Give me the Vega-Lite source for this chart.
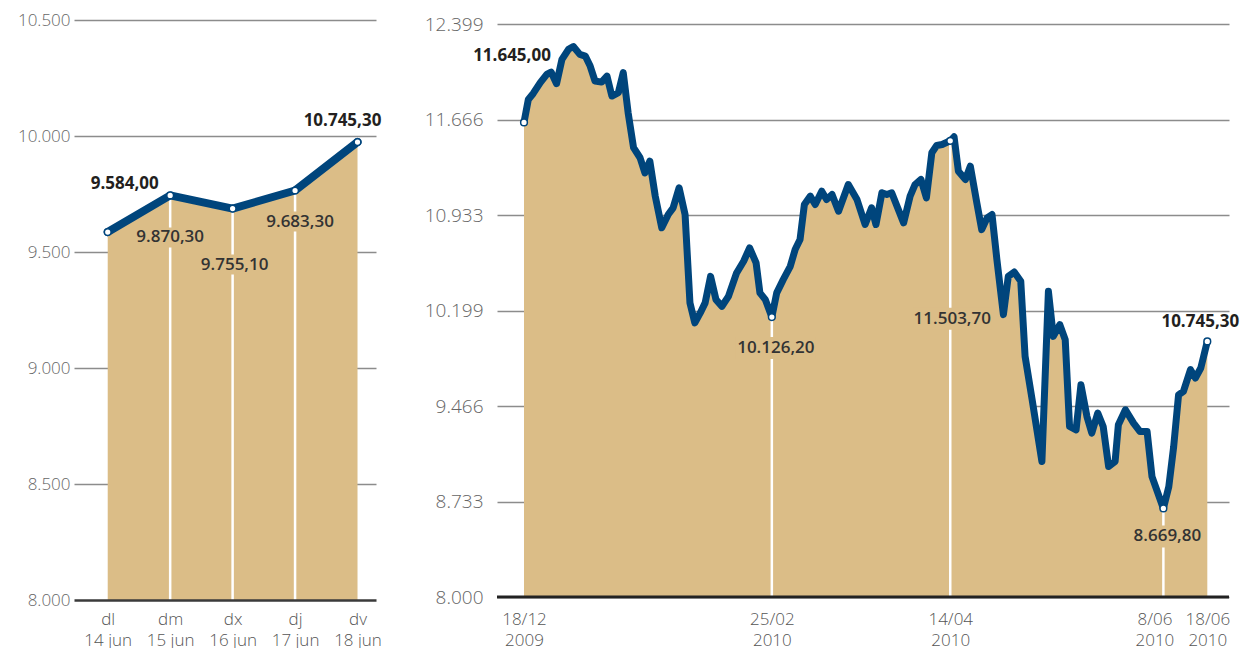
{
  "$schema": "https://vega.github.io/schema/vega-lite/v6.json",
  "padding": {"left": 17, "top": 11, "right": 0, "bottom": 0},
  "spacing": 42,
  "config": {
    "view": {"stroke": null},
    "font": "Open Sans",
    "axis": {"title": null, "labelFont": "Open Sans", "labelFontWeight": 300}
  },
  "datasets": {
    "semana": [
      {"dia": 0, "dia_sem": "dl", "fecha": "14 jun", "valor": 9586, "texto": "9.584,00"},
      {"dia": 1, "dia_sem": "dm", "fecha": "15 jun", "valor": 9744, "texto": "9.870,30"},
      {"dia": 2, "dia_sem": "dx", "fecha": "16 jun", "valor": 9687, "texto": "9.755,10"},
      {"dia": 3, "dia_sem": "dj", "fecha": "17 jun", "valor": 9765, "texto": "9.683,30"},
      {"dia": 4, "dia_sem": "dv", "fecha": "18 jun", "valor": 9974, "texto": "10.745,30"}
    ],
    "serie": [
      {"sesion": 0, "valor": 11645, "texto": "11.645,00"},
      {"sesion": 0.8, "valor": 11822},
      {"sesion": 1.7, "valor": 11868},
      {"sesion": 3.0, "valor": 11951},
      {"sesion": 4.2, "valor": 12014},
      {"sesion": 5.0, "valor": 12032},
      {"sesion": 6.0, "valor": 11943},
      {"sesion": 7.0, "valor": 12130},
      {"sesion": 8.2, "valor": 12207},
      {"sesion": 9.1, "valor": 12228},
      {"sesion": 10.3, "valor": 12168},
      {"sesion": 11.3, "valor": 12155},
      {"sesion": 12.2, "valor": 12078},
      {"sesion": 13.1, "valor": 11963},
      {"sesion": 14.3, "valor": 11955},
      {"sesion": 15.3, "valor": 12001},
      {"sesion": 16.2, "valor": 11848},
      {"sesion": 17.4, "valor": 11874},
      {"sesion": 18.3, "valor": 12028},
      {"sesion": 19.2, "valor": 11720},
      {"sesion": 20.2, "valor": 11451},
      {"sesion": 21.4, "valor": 11374},
      {"sesion": 22.3, "valor": 11258},
      {"sesion": 23.2, "valor": 11348},
      {"sesion": 24.2, "valor": 11079},
      {"sesion": 25.4, "valor": 10836},
      {"sesion": 26.6, "valor": 10938},
      {"sesion": 27.5, "valor": 10989},
      {"sesion": 28.6, "valor": 11143},
      {"sesion": 29.7, "valor": 10938},
      {"sesion": 30.6, "valor": 10259},
      {"sesion": 31.5, "valor": 10105},
      {"sesion": 32.5, "valor": 10182},
      {"sesion": 33.4, "valor": 10259},
      {"sesion": 34.4, "valor": 10463},
      {"sesion": 35.4, "valor": 10284},
      {"sesion": 36.5, "valor": 10233},
      {"sesion": 37.7, "valor": 10309},
      {"sesion": 39.2, "valor": 10489},
      {"sesion": 40.5, "valor": 10579},
      {"sesion": 41.6, "valor": 10682},
      {"sesion": 42.8, "valor": 10566},
      {"sesion": 43.5, "valor": 10336},
      {"sesion": 44.5, "valor": 10284},
      {"sesion": 45.7, "valor": 10150, "texto": "10.126,20"},
      {"sesion": 46.6, "valor": 10336},
      {"sesion": 47.8, "valor": 10438},
      {"sesion": 49.1, "valor": 10540},
      {"sesion": 50.0, "valor": 10669},
      {"sesion": 50.9, "valor": 10746},
      {"sesion": 51.7, "valor": 11015},
      {"sesion": 52.8, "valor": 11079},
      {"sesion": 53.7, "valor": 11015},
      {"sesion": 54.9, "valor": 11117},
      {"sesion": 55.8, "valor": 11053},
      {"sesion": 56.8, "valor": 11092},
      {"sesion": 58.0, "valor": 10963},
      {"sesion": 59.8, "valor": 11168},
      {"sesion": 61.4, "valor": 11053},
      {"sesion": 62.9, "valor": 10861},
      {"sesion": 64.1, "valor": 10989},
      {"sesion": 64.9, "valor": 10861},
      {"sesion": 66.0, "valor": 11105},
      {"sesion": 66.9, "valor": 11092},
      {"sesion": 67.8, "valor": 11105},
      {"sesion": 70.0, "valor": 10874},
      {"sesion": 71.2, "valor": 11079},
      {"sesion": 72.1, "valor": 11168},
      {"sesion": 73.2, "valor": 11207},
      {"sesion": 74.2, "valor": 11066},
      {"sesion": 75.2, "valor": 11412},
      {"sesion": 76.1, "valor": 11468},
      {"sesion": 77.1, "valor": 11476},
      {"sesion": 78.6, "valor": 11504, "texto": "11.503,70"},
      {"sesion": 79.3, "valor": 11535},
      {"sesion": 80.1, "valor": 11271},
      {"sesion": 81.4, "valor": 11207},
      {"sesion": 82.3, "valor": 11309},
      {"sesion": 83.5, "valor": 11028},
      {"sesion": 84.4, "valor": 10822},
      {"sesion": 85.4, "valor": 10912},
      {"sesion": 86.3, "valor": 10938},
      {"sesion": 87.2, "valor": 10592},
      {"sesion": 88.4, "valor": 10169},
      {"sesion": 89.3, "valor": 10463},
      {"sesion": 90.4, "valor": 10496},
      {"sesion": 91.6, "valor": 10426},
      {"sesion": 92.4, "valor": 9848},
      {"sesion": 93.7, "valor": 9515},
      {"sesion": 95.5, "valor": 9041},
      {"sesion": 96.7, "valor": 10348},
      {"sesion": 97.6, "valor": 10002},
      {"sesion": 98.8, "valor": 10092},
      {"sesion": 99.8, "valor": 9976},
      {"sesion": 100.6, "valor": 9310},
      {"sesion": 101.8, "valor": 9284},
      {"sesion": 102.7, "valor": 9630},
      {"sesion": 103.8, "valor": 9387},
      {"sesion": 104.7, "valor": 9259},
      {"sesion": 105.8, "valor": 9413},
      {"sesion": 106.8, "valor": 9310},
      {"sesion": 107.8, "valor": 9002},
      {"sesion": 109.0, "valor": 9041},
      {"sesion": 109.6, "valor": 9323},
      {"sesion": 110.9, "valor": 9438},
      {"sesion": 112.4, "valor": 9336},
      {"sesion": 113.6, "valor": 9271},
      {"sesion": 114.9, "valor": 9271},
      {"sesion": 115.8, "valor": 8925},
      {"sesion": 117.9, "valor": 8680, "texto": "8.669,80"},
      {"sesion": 118.9, "valor": 8848},
      {"sesion": 119.8, "valor": 9156},
      {"sesion": 120.7, "valor": 9553},
      {"sesion": 121.6, "valor": 9579},
      {"sesion": 122.9, "valor": 9746},
      {"sesion": 123.8, "valor": 9682},
      {"sesion": 124.8, "valor": 9759},
      {"sesion": 126, "valor": 9963, "texto": "10.745,30"}
    ]
  },
  "hconcat": [
    {
      "width": 302,
      "height": 580,
      "data": {"name": "semana"},
      "encoding": {
        "x": {
          "field": "dia", "type": "quantitative",
          "scale": {"domain": [-0.54, 4.296], "nice": false, "zero": false},
          "axis": {
            "values": [0, 1, 2, 3, 4],
            "labelExpr": "[['dl','14 jun'],['dm','15 jun'],['dx','16 jun'],['dj','17 jun'],['dv','18 jun']][datum.value]",
            "domain": true, "domainColor": "#3a3a3a", "domainWidth": 2.5,
            "ticks": false, "grid": false, "zindex": 1,
            "labelPadding": 11, "labelFontSize": 17, "labelColor": "#555555",
            "labelLineHeight": 21, "labelOverlap": false, "labelFlush": false
          }
        },
        "y": {
          "field": "valor", "type": "quantitative",
          "scale": {"domain": [8000, 10500], "nice": false, "zero": false},
          "axis": {
            "values": [8000, 8500, 9000, 9500, 10000, 10500],
            "labelExpr": "replace(format(datum.value, ','), ',', '.')",
            "grid": true, "gridWidth": 1.5,
            "gridColor": {"condition": {"test": "datum.value == 8000", "value": "transparent"}, "value": "#8c8c8c"},
            "domain": false, "ticks": false,
            "labelPadding": 4, "labelFontSize": 17, "labelColor": "#666666"
          }
        }
      },
      "layer": [
        {"mark": {"type": "area", "color": "#dbbd87", "opacity": 1}, "encoding": {"y2": {"datum": 8000}}},
        {
          "transform": [{"filter": "datum.dia > 0 && datum.dia < 4"}],
          "mark": {"type": "rule", "color": "white", "strokeWidth": 2.5},
          "encoding": {"y2": {"datum": 8000}}
        },
        {
          "transform": [{"filter": "datum.dia == 1"}],
          "mark": {"type": "tick", "orient": "horizontal", "color": "#dbbd87", "thickness": 20, "size": 76, "opacity": 1},
          "encoding": {"yOffset": {"value": 42}}
        },
        {
          "transform": [{"filter": "datum.dia == 2"}],
          "mark": {"type": "tick", "orient": "horizontal", "color": "#dbbd87", "thickness": 20, "size": 70, "opacity": 1},
          "encoding": {"xOffset": {"value": 2}, "yOffset": {"value": 56}}
        },
        {
          "transform": [{"filter": "datum.dia == 3"}],
          "mark": {"type": "tick", "orient": "horizontal", "color": "#dbbd87", "thickness": 20, "size": 76, "opacity": 1},
          "encoding": {"xOffset": {"value": 5}, "yOffset": {"value": 31}}
        },
        {"mark": {"type": "line", "color": "#00457c", "strokeWidth": 8, "strokeJoin": "round", "strokeCap": "round"}},
        {"mark": {"type": "point", "filled": true, "fill": "white", "stroke": "#00457c", "strokeWidth": 1.5, "size": 45, "opacity": 1}},
        {
          "transform": [{"filter": "datum.dia == 0"}],
          "mark": {"type": "text", "font": "Open Sans", "fontSize": 17, "fontWeight": 700, "color": "#231f20", "dx": 17, "dy": -48},
          "encoding": {"text": {"field": "texto"}}
        },
        {
          "transform": [{"filter": "datum.dia == 1"}],
          "mark": {"type": "text", "font": "Open Sans", "fontSize": 17, "fontWeight": 600, "color": "#333333", "dx": 0, "dy": 42},
          "encoding": {"text": {"field": "texto"}}
        },
        {
          "transform": [{"filter": "datum.dia == 2"}],
          "mark": {"type": "text", "font": "Open Sans", "fontSize": 17, "fontWeight": 600, "color": "#333333", "dx": 2, "dy": 56},
          "encoding": {"text": {"field": "texto"}}
        },
        {
          "transform": [{"filter": "datum.dia == 3"}],
          "mark": {"type": "text", "font": "Open Sans", "fontSize": 17, "fontWeight": 600, "color": "#333333", "dx": 5, "dy": 31},
          "encoding": {"text": {"field": "texto"}}
        },
        {
          "transform": [{"filter": "datum.dia == 4"}],
          "mark": {"type": "text", "font": "Open Sans", "fontSize": 17, "fontWeight": 700, "color": "#231f20", "dx": -15, "dy": -21},
          "encoding": {"text": {"field": "texto"}}
        }
      ]
    },
    {
      "width": 732,
      "height": 580,
      "data": {"name": "serie"},
      "encoding": {
        "x": {
          "field": "sesion", "type": "quantitative",
          "scale": {"domain": [-4.98, 130.0], "nice": false, "zero": false},
          "axis": {
            "values": [0, 45.7, 78.6, 117.9, 126],
            "labelExpr": "datum.value < 1 ? ['18/12','2009'] : datum.value < 50 ? ['25/02','2010'] : datum.value < 100 ? ['14/04','2010'] : datum.value < 120 ? ['8/06','2010'] : ['18/06','2010']",
            "labelOffset": {"condition": {"test": "datum.value > 110 && datum.value < 120", "value": -9}, "value": 0},
            "domain": false, "ticks": false, "grid": false,
            "labelPadding": 11, "labelFontSize": 17, "labelColor": "#555555",
            "labelLineHeight": 21, "labelOverlap": false, "labelFlush": false
          }
        },
        "y": {
          "field": "valor", "type": "quantitative",
          "scale": {"domain": [7977, 12432], "nice": false, "zero": false},
          "axis": {
            "values": [8000, 8733, 9466, 10199, 10933, 11666, 12399],
            "labelExpr": "replace(format(datum.value, ','), ',', '.')",
            "grid": true, "gridWidth": 1.5, "gridColor": "#8c8c8c",
            "domain": false, "ticks": false,
            "labelPadding": 14, "labelFontSize": 19, "labelColor": "#666666"
          }
        }
      },
      "layer": [
        {"mark": {"type": "area", "color": "#dbbd87", "opacity": 1}, "encoding": {"y2": {"datum": 8000}}},
        {
          "transform": [{"filter": "isValid(datum.texto) && datum.sesion > 1 && datum.sesion < 125"}],
          "mark": {"type": "rule", "color": "white", "strokeWidth": 2.5},
          "encoding": {"y2": {"datum": 8000}}
        },
        {
          "transform": [{"filter": "datum.sesion == 0"}],
          "mark": {"type": "rule", "color": "#222222", "strokeWidth": 3},
          "encoding": {"x": {"datum": -4.98}, "x2": {"datum": 130}, "y": {"datum": 8000}}
        },
        {
          "transform": [{"filter": "datum.sesion == 45.7"}],
          "mark": {"type": "tick", "orient": "horizontal", "color": "#dbbd87", "thickness": 22, "size": 80, "opacity": 1},
          "encoding": {"xOffset": {"value": 4}, "yOffset": {"value": 31}}
        },
        {
          "transform": [{"filter": "datum.sesion == 78.6"}],
          "mark": {"type": "tick", "orient": "horizontal", "color": "#dbbd87", "thickness": 22, "size": 78, "opacity": 1},
          "encoding": {"xOffset": {"value": 2}, "yOffset": {"value": 178}}
        },
        {
          "transform": [{"filter": "datum.sesion == 117.9"}],
          "mark": {"type": "tick", "orient": "horizontal", "color": "#dbbd87", "thickness": 22, "size": 78, "opacity": 1},
          "encoding": {"xOffset": {"value": 4}, "yOffset": {"value": 28}}
        },
        {"mark": {"type": "line", "color": "#00457c", "strokeWidth": 7, "strokeJoin": "round", "strokeCap": "round"}},
        {
          "transform": [{"filter": "isValid(datum.texto)"}],
          "mark": {"type": "point", "filled": true, "fill": "white", "stroke": "#00457c", "strokeWidth": 1.5, "size": 45, "opacity": 1}
        },
        {
          "transform": [{"filter": "datum.sesion == 0"}],
          "mark": {"type": "text", "font": "Open Sans", "fontSize": 17, "fontWeight": 700, "color": "#231f20", "dx": -12, "dy": -66},
          "encoding": {"text": {"field": "texto"}}
        },
        {
          "transform": [{"filter": "datum.sesion == 45.7"}],
          "mark": {"type": "text", "font": "Open Sans", "fontSize": 17, "fontWeight": 600, "color": "#333333", "dx": 4, "dy": 31},
          "encoding": {"text": {"field": "texto"}}
        },
        {
          "transform": [{"filter": "datum.sesion == 78.6"}],
          "mark": {"type": "text", "font": "Open Sans", "fontSize": 17, "fontWeight": 600, "color": "#333333", "dx": 2, "dy": 178},
          "encoding": {"text": {"field": "texto"}}
        },
        {
          "transform": [{"filter": "datum.sesion == 117.9"}],
          "mark": {"type": "text", "font": "Open Sans", "fontSize": 17, "fontWeight": 600, "color": "#333333", "dx": 4, "dy": 28},
          "encoding": {"text": {"field": "texto"}}
        },
        {
          "transform": [{"filter": "datum.sesion == 126"}],
          "mark": {"type": "text", "font": "Open Sans", "fontSize": 17, "fontWeight": 700, "color": "#231f20", "dx": -7, "dy": -19},
          "encoding": {"text": {"field": "texto"}}
        }
      ]
    }
  ]
}
